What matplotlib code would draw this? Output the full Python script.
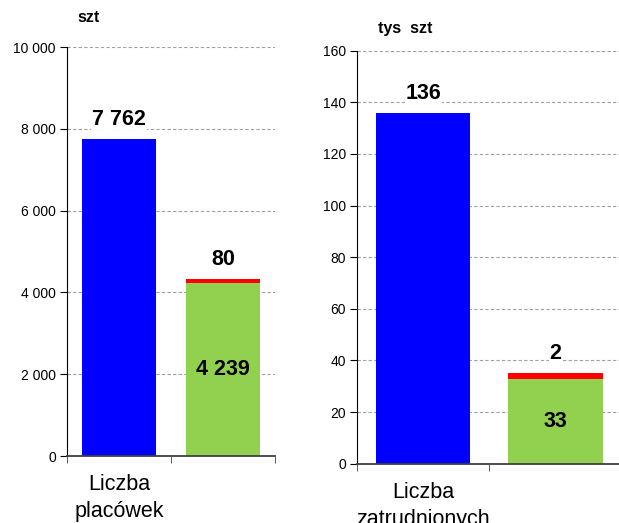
import matplotlib.pyplot as plt
from matplotlib.ticker import FuncFormatter

plt.rcParams['font.family'] = ['Liberation Sans', 'DejaVu Sans']

# placówki (szt)
lewe_kategorie = ['Liczba\nplacówek', '']
lewe_niebieskie = [7762, 0]
lewe_zielone = [0, 4239]
lewe_czerwone = [0, 80]

# zatrudnieni (tys szt)
prawe_kategorie = ['Liczba\nzatrudnionych', '']
prawe_niebieskie = [136, 0]
prawe_zielone = [0, 33]
prawe_czerwone = [0, 2]

NIEBIESKI = '#0000FF'
ZIELONY = '#92D050'
CZERWONY = '#FF0000'


def fmt_tys(v, pos):
    return '{:,.0f}'.format(v).replace(',', ' ')


def rysuj(ax, kategorie, nieb, ziel, czer, ymax, krok, szer):
    x = list(range(len(kategorie)))
    ax.bar(x, nieb, width=szer, color=NIEBIESKI, zorder=2)
    ax.bar(x, ziel, width=szer, color=ZIELONY, zorder=2)
    ax.bar(x, czer, width=szer, bottom=ziel, color=CZERWONY, zorder=2)

    off = ymax * 0.022
    bb = dict(facecolor='white', edgecolor='none', pad=0.5)
    for i in x:
        if nieb[i]:
            ax.text(i, nieb[i] + off, fmt_tys(nieb[i], None), ha='center', va='bottom',
                    fontsize=15.5, fontweight='bold', bbox=bb, zorder=3)
        if ziel[i]:
            ax.text(i, ziel[i] / 2, fmt_tys(ziel[i], None), ha='center', va='center',
                    fontsize=15.5, fontweight='bold', zorder=3)
        if czer[i]:
            ax.text(i, ziel[i] + czer[i] + off, fmt_tys(czer[i], None), ha='center',
                    va='bottom', fontsize=15.5, fontweight='bold', bbox=bb, zorder=3)

    ax.set_xlim(-0.5, len(kategorie) - 0.5)
    ax.set_ylim(0, ymax)
    ax.set_yticks(range(0, ymax + 1, krok))
    ax.yaxis.set_major_formatter(FuncFormatter(fmt_tys))
    ax.yaxis.grid(True, color='#a0a0a0', linestyle=(0, (3, 2)), linewidth=0.8, zorder=0)
    ax.set_axisbelow(True)

    ax.set_xticks(x)
    ax.set_xticklabels(kategorie, fontsize=15.5, linespacing=1.4)
    ax.set_xticks([i - 0.5 for i in range(len(kategorie) + 1)], minor=True)
    ax.tick_params(axis='x', which='major', length=0, pad=13)
    ax.tick_params(axis='x', which='minor', length=5, color='#404040')
    ax.tick_params(axis='y', length=5, labelsize=10, pad=3)

    ax.spines['top'].set_visible(False)
    ax.spines['right'].set_visible(False)
    ax.spines['left'].set_color('black')
    ax.spines['bottom'].set_color('#404040')
    ax.spines['bottom'].set_linewidth(1.3)


fig = plt.figure(figsize=(6.19, 5.23), dpi=100)

ax1 = fig.add_axes([0.1082, 0.1281, 0.3361, 0.782])
rysuj(ax1, lewe_kategorie, lewe_niebieskie, lewe_zielone, lewe_czerwone,
      10000, 2000, 0.71)
fig.text(89 / 619, 1 - 18 / 523, 'szt', ha='center', va='center',
         fontsize=11.5, fontweight='bold')

ax2 = fig.add_axes([0.5767, 0.1134, 0.4276, 0.7897])
rysuj(ax2, prawe_kategorie, prawe_niebieskie, prawe_zielone, prawe_czerwone,
      160, 20, 0.715)
fig.text(405 / 619, 1 - 29 / 523, 'tys  szt', ha='center', va='center',
         fontsize=11.5, fontweight='bold')

fig.savefig('out.png', dpi=100)
